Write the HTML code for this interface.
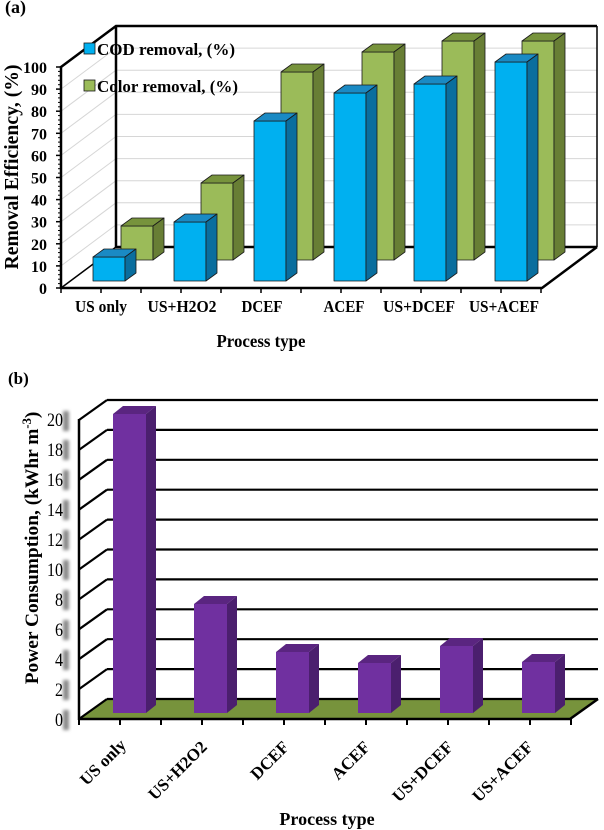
<!DOCTYPE html>
<html>
<head>
<meta charset="utf-8">
<style>
  html,body{margin:0;padding:0;background:#fff;}
  svg{display:block;}
  text{font-family:"Liberation Serif","Times New Roman",serif;fill:#000;}
</style>
</head>
<body>
<svg width="604" height="830" viewBox="0 0 604 830" xmlns="http://www.w3.org/2000/svg">
  <defs>
    <filter id="bl" x="-50%" y="-50%" width="200%" height="200%"><feGaussianBlur stdDeviation="1.6"/></filter>
  </defs>
  <rect width="604" height="830" fill="#fff"/>

  <!-- ================= CHART (a) ================= -->
  <text x="5" y="13" font-size="18" font-weight="bold">(a)</text>

  <g stroke="#d6d6d6" stroke-width="1">
    <line x1="116" y1="224.9" x2="597" y2="224.9"/>
    <line x1="116" y1="202.8" x2="597" y2="202.8"/>
    <line x1="116" y1="180.7" x2="597" y2="180.7"/>
    <line x1="116" y1="158.6" x2="597" y2="158.6"/>
    <line x1="116" y1="136.5" x2="597" y2="136.5"/>
    <line x1="116" y1="114.4" x2="597" y2="114.4"/>
    <line x1="116" y1="92.3" x2="597" y2="92.3"/>
    <line x1="116" y1="70.2" x2="597" y2="70.2"/>
    <line x1="116" y1="48.1" x2="597" y2="48.1"/>
    <line x1="61" y1="265.9" x2="116" y2="224.9"/>
    <line x1="61" y1="243.8" x2="116" y2="202.8"/>
    <line x1="61" y1="221.7" x2="116" y2="180.7"/>
    <line x1="61" y1="199.6" x2="116" y2="158.6"/>
    <line x1="61" y1="177.5" x2="116" y2="136.5"/>
    <line x1="61" y1="155.4" x2="116" y2="114.4"/>
    <line x1="61" y1="133.3" x2="116" y2="92.3"/>
    <line x1="61" y1="111.2" x2="116" y2="70.2"/>
    <line x1="61" y1="89.1" x2="116" y2="48.1"/>
  </g>
  <g stroke="#000" fill="none">
    <line x1="597" y1="26" x2="597" y2="247" stroke-width="1.5"/>
    <line x1="61" y1="288" x2="116" y2="247" stroke-width="1.5"/>
    <polyline points="61,67 116,26 597,26" stroke-width="2.5"/>
    <line x1="116" y1="26" x2="116" y2="247" stroke-width="2.5"/>
    <line x1="116" y1="247" x2="597" y2="247" stroke-width="2.5"/>
    <polyline points="61,288 542,288 597,247" stroke-width="2.5"/>
    <line x1="61" y1="66" x2="61" y2="289" stroke-width="2.5"/>
  </g>

  <rect x="84" y="43" width="11" height="11" fill="#00B0F0" stroke="#1a1a1a" stroke-width="0.8"/>
  <text x="97" y="55" font-size="17" font-weight="bold" textLength="138" lengthAdjust="spacingAndGlyphs">COD removal, (%)</text>
  <rect x="84" y="80" width="11" height="11" fill="#9BBB59" stroke="#1a1a1a" stroke-width="0.8"/>
  <text x="97" y="92" font-size="17" font-weight="bold" textLength="141" lengthAdjust="spacingAndGlyphs">Color removal, (%)</text>

  <g stroke="#1a1a1a" stroke-width="0.8" stroke-linejoin="round">
    <rect x="121" y="226" width="32" height="34" fill="#9BBB59"/>
    <polygon points="121,226 153,226 164,218 132,218" fill="#77933C"/>
    <polygon points="153,226 164,218 164,252 153,260" fill="#687E35"/>

    <rect x="201" y="183" width="32" height="77" fill="#9BBB59"/>
    <polygon points="201,183 233,183 244,175 212,175" fill="#77933C"/>
    <polygon points="233,183 244,175 244,252 233,260" fill="#687E35"/>

    <rect x="281" y="72" width="32" height="188" fill="#9BBB59"/>
    <polygon points="281,72 313,72 324,64 292,64" fill="#77933C"/>
    <polygon points="313,72 324,64 324,252 313,260" fill="#687E35"/>

    <rect x="362" y="52" width="32" height="208" fill="#9BBB59"/>
    <polygon points="362,52 394,52 405,44 373,44" fill="#77933C"/>
    <polygon points="394,52 405,44 405,252 394,260" fill="#687E35"/>

    <rect x="442" y="41" width="32" height="219" fill="#9BBB59"/>
    <polygon points="442,41 474,41 485,33 453,33" fill="#77933C"/>
    <polygon points="474,41 485,33 485,252 474,260" fill="#687E35"/>

    <rect x="522" y="41" width="32" height="219" fill="#9BBB59"/>
    <polygon points="522,41 554,41 565,33 533,33" fill="#77933C"/>
    <polygon points="554,41 565,33 565,252 554,260" fill="#687E35"/>
  </g>

  <g stroke="#1a1a1a" stroke-width="0.8" stroke-linejoin="round">
    <rect x="93" y="257" width="32" height="24" fill="#00B0F0"/>
    <polygon points="93,257 125,257 136,249 104,249" fill="#1A8AC4"/>
    <polygon points="125,257 136,249 136,273 125,281" fill="#0A6E9E"/>

    <rect x="174" y="222" width="32" height="59" fill="#00B0F0"/>
    <polygon points="174,222 206,222 217,214 185,214" fill="#1A8AC4"/>
    <polygon points="206,222 217,214 217,273 206,281" fill="#0A6E9E"/>

    <rect x="254" y="121" width="32" height="160" fill="#00B0F0"/>
    <polygon points="254,121 286,121 297,113 265,113" fill="#1A8AC4"/>
    <polygon points="286,121 297,113 297,273 286,281" fill="#0A6E9E"/>

    <rect x="334" y="93" width="32" height="188" fill="#00B0F0"/>
    <polygon points="334,93 366,93 377,85 345,85" fill="#1A8AC4"/>
    <polygon points="366,93 377,85 377,273 366,281" fill="#0A6E9E"/>

    <rect x="414" y="84" width="32" height="197" fill="#00B0F0"/>
    <polygon points="414,84 446,84 457,76 425,76" fill="#1A8AC4"/>
    <polygon points="446,84 457,76 457,273 446,281" fill="#0A6E9E"/>

    <rect x="495" y="62" width="32" height="219" fill="#00B0F0"/>
    <polygon points="495,62 527,62 538,54 506,54" fill="#1A8AC4"/>
    <polygon points="527,62 538,54 538,273 527,281" fill="#0A6E9E"/>
  </g>

  <g stroke="#000" stroke-width="1.5">
    <line x1="56" y1="288" x2="61" y2="288"/>
    <line x1="56" y1="265.9" x2="61" y2="265.9"/>
    <line x1="56" y1="243.8" x2="61" y2="243.8"/>
    <line x1="56" y1="221.7" x2="61" y2="221.7"/>
    <line x1="56" y1="199.6" x2="61" y2="199.6"/>
    <line x1="56" y1="177.5" x2="61" y2="177.5"/>
    <line x1="56" y1="155.4" x2="61" y2="155.4"/>
    <line x1="56" y1="133.3" x2="61" y2="133.3"/>
    <line x1="56" y1="111.2" x2="61" y2="111.2"/>
    <line x1="56" y1="89.1" x2="61" y2="89.1"/>
    <line x1="56" y1="67" x2="61" y2="67"/>
  </g>
  <g stroke="#000" stroke-width="1">
    <line x1="58" y1="283.6" x2="61" y2="283.6"/><line x1="58" y1="279.2" x2="61" y2="279.2"/><line x1="58" y1="274.7" x2="61" y2="274.7"/><line x1="58" y1="270.3" x2="61" y2="270.3"/>
    <line x1="58" y1="261.5" x2="61" y2="261.5"/><line x1="58" y1="257.1" x2="61" y2="257.1"/><line x1="58" y1="252.6" x2="61" y2="252.6"/><line x1="58" y1="248.2" x2="61" y2="248.2"/>
    <line x1="58" y1="239.4" x2="61" y2="239.4"/><line x1="58" y1="235.0" x2="61" y2="235.0"/><line x1="58" y1="230.5" x2="61" y2="230.5"/><line x1="58" y1="226.1" x2="61" y2="226.1"/>
    <line x1="58" y1="217.3" x2="61" y2="217.3"/><line x1="58" y1="212.9" x2="61" y2="212.9"/><line x1="58" y1="208.4" x2="61" y2="208.4"/><line x1="58" y1="204.0" x2="61" y2="204.0"/>
    <line x1="58" y1="195.2" x2="61" y2="195.2"/><line x1="58" y1="190.8" x2="61" y2="190.8"/><line x1="58" y1="186.3" x2="61" y2="186.3"/><line x1="58" y1="181.9" x2="61" y2="181.9"/>
    <line x1="58" y1="173.1" x2="61" y2="173.1"/><line x1="58" y1="168.7" x2="61" y2="168.7"/><line x1="58" y1="164.2" x2="61" y2="164.2"/><line x1="58" y1="159.8" x2="61" y2="159.8"/>
    <line x1="58" y1="151.0" x2="61" y2="151.0"/><line x1="58" y1="146.6" x2="61" y2="146.6"/><line x1="58" y1="142.1" x2="61" y2="142.1"/><line x1="58" y1="137.7" x2="61" y2="137.7"/>
    <line x1="58" y1="128.9" x2="61" y2="128.9"/><line x1="58" y1="124.5" x2="61" y2="124.5"/><line x1="58" y1="120.0" x2="61" y2="120.0"/><line x1="58" y1="115.6" x2="61" y2="115.6"/>
    <line x1="58" y1="106.8" x2="61" y2="106.8"/><line x1="58" y1="102.4" x2="61" y2="102.4"/><line x1="58" y1="97.9" x2="61" y2="97.9"/><line x1="58" y1="93.5" x2="61" y2="93.5"/>
    <line x1="58" y1="84.7" x2="61" y2="84.7"/><line x1="58" y1="80.3" x2="61" y2="80.3"/><line x1="58" y1="75.8" x2="61" y2="75.8"/><line x1="58" y1="71.4" x2="61" y2="71.4"/>
  </g>
  <g stroke="#000" stroke-width="1.5">
    <line x1="61" y1="288" x2="61" y2="293"/><line x1="101" y1="288" x2="101" y2="293"/>
    <line x1="141" y1="288" x2="141" y2="293"/><line x1="181" y1="288" x2="181" y2="293"/>
    <line x1="221" y1="288" x2="221" y2="293"/><line x1="261" y1="288" x2="261" y2="293"/>
    <line x1="301" y1="288" x2="301" y2="293"/><line x1="341" y1="288" x2="341" y2="293"/>
    <line x1="381" y1="288" x2="381" y2="293"/><line x1="421" y1="288" x2="421" y2="293"/>
    <line x1="461" y1="288" x2="461" y2="293"/><line x1="501" y1="288" x2="501" y2="293"/>
    <line x1="541" y1="288" x2="541" y2="293"/>
  </g>

  <g font-size="16" font-weight="bold" text-anchor="end">
    <text x="47" y="294">0</text>
    <text x="47" y="272">10</text>
    <text x="47" y="249.8">20</text>
    <text x="47" y="227.7">30</text>
    <text x="47" y="205.6">40</text>
    <text x="47" y="183.5">50</text>
    <text x="47" y="161.4">60</text>
    <text x="47" y="139.3">70</text>
    <text x="47" y="117.2">80</text>
    <text x="47" y="95.1">90</text>
    <text x="47" y="73">100</text>
  </g>
  <text transform="translate(18,167) rotate(-90)" text-anchor="middle" font-size="20.5" font-weight="bold" textLength="205" lengthAdjust="spacingAndGlyphs">Removal Efficiency, (%)</text>

  <g font-size="17" font-weight="bold" text-anchor="middle">
    <text x="101" y="312" textLength="52" lengthAdjust="spacingAndGlyphs">US only</text>
    <text x="182" y="312" textLength="69" lengthAdjust="spacingAndGlyphs">US+H2O2</text>
    <text x="262" y="312" textLength="41" lengthAdjust="spacingAndGlyphs">DCEF</text>
    <text x="344" y="312" textLength="41" lengthAdjust="spacingAndGlyphs">ACEF</text>
    <text x="419" y="312" textLength="72" lengthAdjust="spacingAndGlyphs">US+DCEF</text>
    <text x="504" y="312" textLength="70" lengthAdjust="spacingAndGlyphs">US+ACEF</text>
  </g>
  <text x="261" y="347" font-size="17.5" font-weight="bold" text-anchor="middle" textLength="89" lengthAdjust="spacingAndGlyphs">Process type</text>

  <!-- ================= CHART (b) ================= -->
  <text x="8" y="384" font-size="17" font-weight="bold">(b)</text>

  <polygon points="79,719 570,719 598,699 107,699" fill="#77933C"/>

  <g stroke="#000" stroke-width="2.2" fill="none">
    <line x1="107" y1="699" x2="598" y2="699"/>
    <line x1="107" y1="669.1" x2="598" y2="669.1"/>
    <line x1="107" y1="639.2" x2="598" y2="639.2"/>
    <line x1="107" y1="609.3" x2="598" y2="609.3"/>
    <line x1="107" y1="579.4" x2="598" y2="579.4"/>
    <line x1="107" y1="549.5" x2="598" y2="549.5"/>
    <line x1="107" y1="519.6" x2="598" y2="519.6"/>
    <line x1="107" y1="489.7" x2="598" y2="489.7"/>
    <line x1="107" y1="459.8" x2="598" y2="459.8"/>
    <line x1="107" y1="429.9" x2="598" y2="429.9"/>
    <line x1="107" y1="400" x2="598" y2="400"/>
    <line x1="79" y1="719" x2="107" y2="699"/>
    <line x1="79" y1="689.1" x2="107" y2="669.1"/>
    <line x1="79" y1="659.2" x2="107" y2="639.2"/>
    <line x1="79" y1="629.3" x2="107" y2="609.3"/>
    <line x1="79" y1="599.4" x2="107" y2="579.4"/>
    <line x1="79" y1="569.5" x2="107" y2="549.5"/>
    <line x1="79" y1="539.6" x2="107" y2="519.6"/>
    <line x1="79" y1="509.7" x2="107" y2="489.7"/>
    <line x1="79" y1="479.8" x2="107" y2="459.8"/>
    <line x1="79" y1="449.9" x2="107" y2="429.9"/>
    <line x1="79" y1="420" x2="107" y2="400"/>
  </g>

  <g stroke="none">
    <rect x="113" y="414" width="33" height="299" fill="#7030A0"/>
    <polygon points="113,414 146,414 156,406 123,406" fill="#5A2580"/>
    <polygon points="146,414 156,406 156,705 146,713" fill="#4B1F6E"/>

    <rect x="194" y="604" width="33" height="109" fill="#7030A0"/>
    <polygon points="194,604 227,604 237,596 204,596" fill="#5A2580"/>
    <polygon points="227,604 237,596 237,705 227,713" fill="#4B1F6E"/>

    <rect x="276" y="652" width="33" height="61" fill="#7030A0"/>
    <polygon points="276,652 309,652 319,644 286,644" fill="#5A2580"/>
    <polygon points="309,652 319,644 319,705 309,713" fill="#4B1F6E"/>

    <rect x="358" y="663" width="33" height="50" fill="#7030A0"/>
    <polygon points="358,663 391,663 401,655 368,655" fill="#5A2580"/>
    <polygon points="391,663 401,655 401,705 391,713" fill="#4B1F6E"/>

    <rect x="440" y="646" width="33" height="67" fill="#7030A0"/>
    <polygon points="440,646 473,646 483,638 450,638" fill="#5A2580"/>
    <polygon points="473,646 483,638 483,705 473,713" fill="#4B1F6E"/>

    <rect x="522" y="662" width="33" height="51" fill="#7030A0"/>
    <polygon points="522,662 555,662 565,654 532,654" fill="#5A2580"/>
    <polygon points="555,662 565,654 565,705 555,713" fill="#4B1F6E"/>
  </g>

  <g stroke="#000" fill="none" stroke-width="2.5">
    <line x1="79" y1="419" x2="79" y2="720"/>
    <polyline points="79,719 570,719 598,699"/>
  </g>
  <g stroke="#000" stroke-width="2">
    <line x1="79" y1="719" x2="79" y2="725"/><line x1="120" y1="719" x2="120" y2="725"/>
    <line x1="161" y1="719" x2="161" y2="725"/><line x1="202" y1="719" x2="202" y2="725"/>
    <line x1="243" y1="719" x2="243" y2="725"/><line x1="284" y1="719" x2="284" y2="725"/>
    <line x1="325" y1="719" x2="325" y2="725"/><line x1="366" y1="719" x2="366" y2="725"/>
    <line x1="407" y1="719" x2="407" y2="725"/><line x1="448" y1="719" x2="448" y2="725"/>
    <line x1="489" y1="719" x2="489" y2="725"/><line x1="530" y1="719" x2="530" y2="725"/>
    <line x1="571" y1="719" x2="571" y2="725"/>
  </g>

  <g fill="#8a8a8a" filter="url(#bl)">
    <rect x="63" y="710" width="6" height="20"/>
    <rect x="63" y="680" width="6" height="20"/>
    <rect x="63" y="650" width="6" height="20"/>
    <rect x="63" y="620" width="6" height="20"/>
    <rect x="63" y="590" width="6" height="20"/>
    <rect x="63" y="560" width="6" height="20"/>
    <rect x="63" y="530" width="6" height="20"/>
    <rect x="63" y="500" width="6" height="20"/>
    <rect x="63" y="470" width="6" height="20"/>
    <rect x="63" y="440" width="6" height="20"/>
    <rect x="63" y="411" width="6" height="20"/>
  </g>
  <g font-size="19" text-anchor="end">
    <text x="63" y="726" textLength="8" lengthAdjust="spacingAndGlyphs">0</text>
    <text x="63" y="696" textLength="8" lengthAdjust="spacingAndGlyphs">2</text>
    <text x="63" y="666" textLength="8" lengthAdjust="spacingAndGlyphs">4</text>
    <text x="63" y="636" textLength="8" lengthAdjust="spacingAndGlyphs">6</text>
    <text x="63" y="606" textLength="8" lengthAdjust="spacingAndGlyphs">8</text>
    <text x="63" y="576" textLength="16" lengthAdjust="spacingAndGlyphs">10</text>
    <text x="63" y="546" textLength="16" lengthAdjust="spacingAndGlyphs">12</text>
    <text x="63" y="516" textLength="16" lengthAdjust="spacingAndGlyphs">14</text>
    <text x="63" y="486" textLength="16" lengthAdjust="spacingAndGlyphs">16</text>
    <text x="63" y="456" textLength="16" lengthAdjust="spacingAndGlyphs">18</text>
    <text x="63" y="426" textLength="16" lengthAdjust="spacingAndGlyphs">20</text>
  </g>
  <text transform="translate(38,548) rotate(-90)" text-anchor="middle" font-size="19.4" font-weight="bold">Power Consumption, (kWhr m<tspan baseline-shift="super" font-size="12.5">-3</tspan>)</text>

  <g font-size="17" font-weight="bold" text-anchor="end">
    <text transform="translate(127,746) rotate(-45)">US only</text>
    <text transform="translate(208,748) rotate(-45)">US+H2O2</text>
    <text transform="translate(290,748) rotate(-45)">DCEF</text>
    <text transform="translate(371,748) rotate(-45)">ACEF</text>
    <text transform="translate(454,748) rotate(-45)">US+DCEF</text>
    <text transform="translate(534,748) rotate(-45)">US+ACEF</text>
  </g>
  <text x="327" y="825" font-size="18" font-weight="bold" text-anchor="middle">Process type</text>
</svg>
</body>
</html>
